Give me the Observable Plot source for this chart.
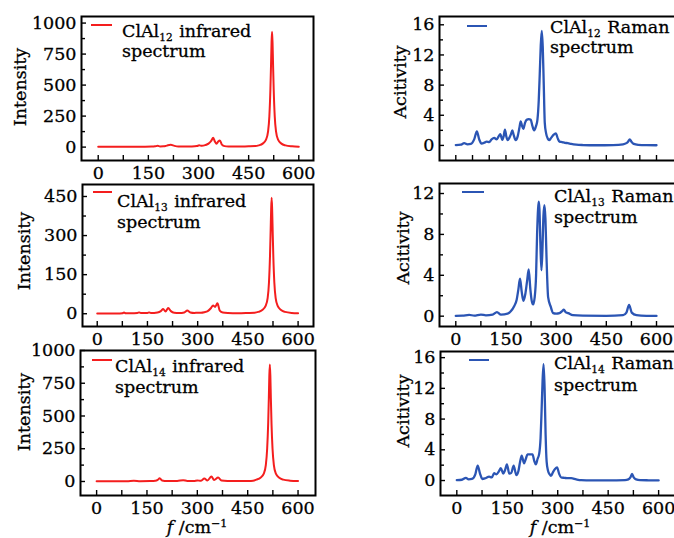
<!DOCTYPE html>
<html>
<head>
<meta charset="utf-8">
<script src="https://cdn.jsdelivr.net/npm/d3@7"></script>
<script src="https://cdn.jsdelivr.net/npm/@observablehq/plot@0.6"></script>
<style>
html, body { margin:0; padding:0; width:674px; height:538px; overflow:hidden; background:#fff; }
#root { position:relative; width:674px; height:538px; overflow:hidden; }
.panel { position:absolute; }
.panel svg text { stroke:#000; stroke-width:0.3px; }
.txt { position:absolute; font-family:"DejaVu Serif", serif; font-size:17.5px; line-height:20px; color:#000; white-space:nowrap; -webkit-text-stroke:0.3px #000; }
.txt sub { font-size:10.5px; vertical-align:-4px; line-height:0; margin-right:1px; }
.txt sup { font-size:11px; vertical-align:6px; line-height:0; }
.sw { position:absolute; height:2px; }
.ytitle { position:absolute; font-family:"DejaVu Serif", serif; font-size:17.5px; line-height:20px; color:#000; white-space:nowrap; -webkit-text-stroke:0.3px #000; transform: translate(-50%,-50%) rotate(-90deg); }
</style>
</head>
<body>
<div id="root"></div>
<script>
// ---------- DATA ----------
// ClAl12 infrared spectrum (Intensity vs f / cm^-1)
const ir12X = [0,20,40,60,80,100,120,140,160,170,178,185,195,205,217,228,240,260,280,295,302,310,320,330,338,344,349,354,359,364,370,378,390,410,430,450,470,480,492,502,508,512,515,517,518.5,520,521.5,523,525,528,532,538,548,560,580,600];
const ir12Y = [2,2,2,3,2,3,3,3,4,6,10,5,6,12,18,10,5,4,5,8,14,10,16,28,50,75,45,27,45,54,20,8,5,4,5,6,8,14,28,60,125,250,460,670,840,930,840,670,460,250,125,60,28,14,6,3];

// ClAl13 infrared spectrum
const ir13X = [0,30,60,75,80,85,100,120,125,130,150,155,160,180,190,197,204,212,220,230,245,260,269,278,290,300,310,320,330,340,346,352,359,366,375,390,420,450,470,481,493,503,509,513,516,518,519.5,521,522.5,524,526,529,533,539,549,561,581,600];
const ir13Y = [1,1,1,2,5,2,2,3,5,3,3,5,3,5,10,18,9,22,10,4,3,5,12,5,3,4,4,6,10,22,32,26,40,12,5,3,2,3,4,7,14,30,60,120,220,320,400,445,400,320,220,120,60,30,14,7,3,2];

// ClAl14 infrared spectrum
const ir14X = [0,30,60,90,111,130,160,175,182,188,195,210,240,258,270,290,300,310,321,330,342,350,362,372,390,420,450,466,476,488,498,504,508,511,513,514.5,516,517.5,519,521,524,528,534,544,556,576,600];
const ir14Y = [2,2,2,2,5,2,3,5,12,25,8,4,4,10,4,4,8,5,22,8,38,12,30,8,4,3,4,6,14,28,60,125,250,440,640,810,893,810,640,440,250,125,60,28,14,6,3];

// ClAl12 Raman spectrum (Activity)
const ra12X = [0,15,25,35,45,55,63,70,77,85,92,100,107,115,122,128,133,139,143,147,151,155,160,165,169,173,179,185,190,194,198,202,207,212,218,224,229,234,240,244,248,251,254,257,260,263,266,270,275,279,285,292,299,305,310,318,326,335,345,360,380,420,470,500,510,515,520,525,532,545,570,600];
const ra12Y = [0.05,0.1,0.3,0.15,0.2,0.8,1.85,0.8,0.25,0.35,0.5,0.45,0.8,1.0,0.8,1.2,1.5,0.75,1.2,2.1,1.2,0.7,1.0,1.5,2.0,1.4,0.7,1.2,2.3,3.2,2.6,2.2,3.0,3.4,3.5,3.4,2.6,2.0,2.6,3.4,6.0,9.5,13.3,15.2,13.0,8.0,3.0,1.6,0.9,0.7,1.0,1.4,1.6,0.9,0.5,0.45,0.35,0.3,0.2,0.1,0.05,0.02,0.05,0.15,0.3,0.5,0.8,0.5,0.2,0.08,0.03,0.02];

// ClAl13 Raman spectrum
const ra13X = [0,20,40,55,75,90,110,123,135,155,165,174,182,187,192,197,202,208,213,218,223,227,231,236,240,243,246,248,250,253,256,259,262,265,268,271,276,284,291,300,310,318,323,328,336,350,380,450,500,510,518,526,540,570,600];
const ra13Y = [0.03,0.05,0.13,0.05,0.16,0.08,0.15,0.4,0.15,0.25,0.5,0.95,1.6,2.6,3.66,2.4,1.5,2.2,3.4,4.57,2.6,1.5,1.15,1.9,4.0,8.0,10.5,11.2,10.5,7.0,4.5,6.5,9.8,10.85,9.5,6.0,1.86,0.9,0.3,0.25,0.3,0.5,0.65,0.4,0.3,0.1,0.05,0.03,0.1,0.35,1.1,0.35,0.1,0.03,0.02];

// ClAl14 Raman spectrum
const ra14X = [0,15,27,35,45,55,62,69,76,85,96,104,111,118,125,131,138,143,149,156,162,169,177,183,188,193,200,205,210,217,225,230,235,240,245,249,252,255,258,261,264,267,271,276,280,286,292,298,304,310,320,330,340,355,370,400,450,500,510,516,521,526,533,545,570,600];
const ra14Y = [0.05,0.1,0.35,0.15,0.2,0.8,1.95,0.9,0.2,0.3,0.5,0.4,0.95,0.8,1.2,1.6,0.9,1.3,2.1,0.9,1.0,1.95,0.7,1.2,2.4,3.25,2.25,2.8,3.4,3.4,3.4,2.6,2.1,2.8,3.5,5.5,9.0,13.0,15.15,12.0,6.0,2.5,1.3,0.8,0.6,1.1,1.5,1.7,0.9,0.4,0.35,0.3,0.3,0.15,0.05,0.02,0.02,0.05,0.15,0.4,0.85,0.4,0.15,0.05,0.03,0.02];

// Tick values
const xLabelTicks = [0,150,300,450,600];
const xTicks75 = [0,75,150,225,300,375,450,525,600];
const xTicks50 = [0,50,100,150,200,250,300,350,400,450,500,550,600];
const yInt1000 = [0,250,500,750,1000];
const yInt1000Minor = [125,375,625,875];
const yInt450 = [0,150,300,450];
const yInt450Minor = [75,225,375];
const yAct16 = [0,4,8,12,16];
const yAct16Minor = [2,6,10,14];
const yAct12 = [0,4,8,12];
const yAct12Minor = [2,6,10];

// Text
const molecules = ["ClAl", "ClAl", "ClAl"];
const sizes = ["12", "13", "14"];
const irWord = " infrared";
const ramanWord = " Raman";
const line2 = "spectrum";
const yTitleIR = "Intensity";
const yTitleRaman = "Acitivity";

// ---------- LAYOUT / STYLE ----------
const RED = "#f41e1e";
const BLUE = "#2b55b4";
const root = document.getElementById("root");

const panels = [
  {xs: ir12X, ys: ir12Y, color: RED, lw: 2, xDomain: [-50, 644], yDomain: [-108, 1053], xt: xTicks75, yt: yInt1000, ym: yInt1000Minor, labels: true,
   box: {left: 0, top: 0, width: 330, height: 185, ml: 81, mr: 17, mt: 16, mb: 25},
   leg: {sx: 91, sw: 21, sy: 25, tx: 122, ty: 20.7, lh: 20, idx: 0, word: irWord},
   yt_: {cx: 20, cy: 87, text: yTitleIR}},
  {xs: ir13X, ys: ir13Y, color: RED, lw: 2, xDomain: [-44, 646], yDomain: [-49, 496], xt: xTicks75, yt: yInt450, ym: yInt450Minor, labels: true,
   box: {left: 0, top: 170, width: 330, height: 181, ml: 82, mr: 17, mt: 14, mb: 25},
   leg: {sx: 93, sw: 19, sy: 192, tx: 117, ty: 191, lh: 21, idx: 1, word: irWord},
   yt_: {cx: 24, cy: 251, text: yTitleIR}},
  {xs: ir14X, ys: ir14Y, color: RED, lw: 2, xDomain: [-48, 652], yDomain: [-107, 1000], xt: xTicks75, yt: yInt1000, ym: yInt1000Minor, labels: true,
   box: {left: 0, top: 335, width: 330, height: 190, ml: 80, mr: 15, mt: 15, mb: 30},
   leg: {sx: 92, sw: 20, sy: 360, tx: 115, ty: 355.7, lh: 21, idx: 2, word: irWord},
   yt_: {cx: 24, cy: 412, text: yTitleIR}},
  {xs: ra12X, ys: ra12Y, color: BLUE, lw: 2.3, xDomain: [-48.7, 677.7], yDomain: [-2.0, 17.1], xt: xTicks50, yt: yAct16, ym: yAct16Minor, labels: false,
   box: {left: 337, top: 0, width: 363, height: 185, ml: 102, mr: 18, mt: 16, mb: 25},
   leg: {sx: 467, sw: 20, sy: 26, tx: 550, ty: 18, lh: 19.5, idx: 0, word: ramanWord},
   yt_: {cx: 400, cy: 82, text: yTitleRaman}},
  {xs: ra13X, ys: ra13Y, color: BLUE, lw: 2.3, xDomain: [-48.7, 677.7], yDomain: [-1.01, 12.98], xt: xTicks75, yt: yAct12, ym: yAct12Minor, labels: true,
   box: {left: 337, top: 170, width: 363, height: 181, ml: 102, mr: 18, mt: 13, mb: 25},
   leg: {sx: 462, sw: 22, sy: 192, tx: 554, ty: 185.7, lh: 21, idx: 1, word: ramanWord},
   yt_: {cx: 403, cy: 248, text: yTitleRaman}},
  {xs: ra14X, ys: ra14Y, color: BLUE, lw: 2.3, xDomain: [-48.5, 671], yDomain: [-1.95, 16.8], xt: xTicks75, yt: yAct16, ym: yAct16Minor, labels: true,
   box: {left: 337, top: 335, width: 363, height: 190, ml: 103, mr: 18, mt: 16, mb: 30},
   leg: {sx: 469, sw: 20, sy: 360, tx: 554, ty: 352, lh: 22, idx: 2, word: ramanWord},
   yt_: {cx: 403, cy: 411, text: yTitleRaman}}
];

const fmt = d => String(d);

for (const p of panels) {
  const data = p.xs.map((x, i) => ({x, y: p.ys[i]}));
  const b = p.box;
  const svg = Plot.plot({
    width: b.width, height: b.height,
    marginLeft: b.ml, marginRight: b.mr, marginTop: b.mt, marginBottom: b.mb,
    style: {background: "transparent", fontFamily: "'DejaVu Serif', serif", fontSize: "17.5px", color: "#000", overflow: "visible", maxWidth: "none"},
    x: {domain: p.xDomain, label: null},
    y: {domain: p.yDomain, label: null},
    marks: [
      Plot.line(data, {x: "x", y: "y", stroke: p.color, strokeWidth: p.lw, curve: "monotone-x"}),
      Plot.axisX({ticks: p.xt, tickSize: -5, strokeWidth: 1.4, tickFormat: () => "", label: null}),
      Plot.axisX({ticks: p.labels ? xLabelTicks : [], tickSize: 0, tickPadding: 6, tickFormat: fmt, fontSize: 17.5, label: null}),
      Plot.axisY({ticks: p.yt, tickSize: -5, strokeWidth: 1.4, tickFormat: () => "", label: null}),
      Plot.axisY({ticks: p.ym, tickSize: -4, strokeWidth: 1.4, tickFormat: () => "", label: null}),
      Plot.axisY({ticks: p.yt, tickSize: 0, tickPadding: 5, tickFormat: fmt, fontSize: 17.5, label: null}),
      Plot.frame({stroke: "#000", strokeWidth: 2})
    ]
  });
  const wrap = document.createElement("div");
  wrap.className = "panel";
  wrap.style.left = b.left + "px";
  wrap.style.top = b.top + "px";
  wrap.style.width = b.width + "px";
  wrap.appendChild(svg);
  root.appendChild(wrap);

  // legend
  const L = p.leg;
  const sw = document.createElement("div");
  sw.className = "sw";
  sw.style.left = L.sx + "px";
  sw.style.top = (L.sy - 1) + "px";
  sw.style.width = L.sw + "px";
  sw.style.background = p.color;
  root.appendChild(sw);
  const t = document.createElement("div");
  t.className = "txt";
  t.style.left = L.tx + "px";
  t.style.top = L.ty + "px";
  t.style.lineHeight = L.lh + "px";
  t.innerHTML = molecules[L.idx] + "<sub>" + sizes[L.idx] + "</sub>" + L.word + "<br>" + line2;
  root.appendChild(t);

  // y title
  const yt = document.createElement("div");
  yt.className = "ytitle";
  yt.style.left = p.yt_.cx + "px";
  yt.style.top = p.yt_.cy + "px";
  yt.textContent = p.yt_.text;
  root.appendChild(yt);
}

// x titles
for (const cx of [197, 560]) {
  const d = document.createElement("div");
  d.className = "txt";
  d.style.left = cx + "px";
  d.style.top = "517px";
  d.style.transform = "translateX(-50%)";
  d.innerHTML = "<i>f</i> /cm<sup>\u22121</sup>";
  root.appendChild(d);
}
</script>
</body>
</html>
